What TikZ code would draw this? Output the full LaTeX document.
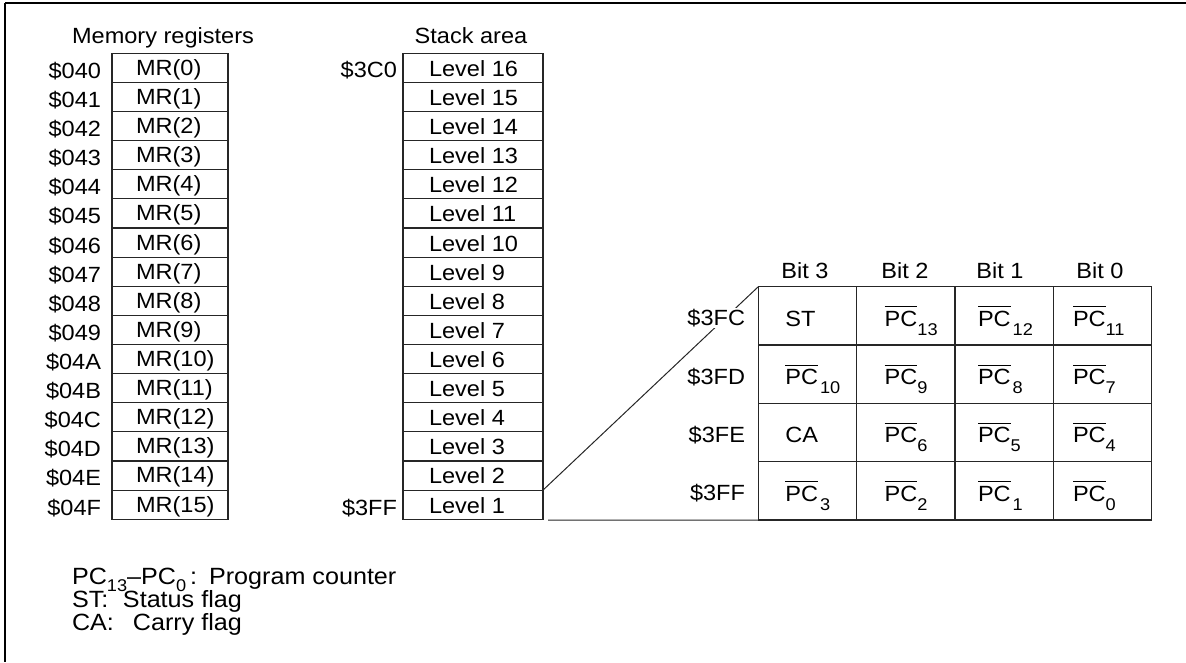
\documentclass[tikz,border=0pt]{standalone}
\usepackage{fontspec}
\setmainfont{Liberation Sans}[FakeStretch=1.07]
\newcommand\pcbar[2][0pt]{\setbox0\hbox{PC}\rlap{\raisebox{\dimexpr\ht0+3.5pt\relax}{\rule{\wd0}{1pt}}}\box0\kern#1\raisebox{-9pt}{\fontsize{17}{17}\selectfont#2}}
\newcommand\pcsub[1]{PC\raisebox{-7pt}{\fontsize{17}{17}\selectfont#1}}
\tikzset{
  frameline/.style={line width=2pt,black},
  mrbox/.style={draw=black!85,line width=1.1pt,inner sep=0pt,outer sep=0pt,minimum width=116pt,minimum height=29.12pt},
  stkbox/.style={draw=black!85,line width=1.1pt,inner sep=0pt,outer sep=0pt,minimum width=140pt,minimum height=29.12pt},
  cellbox/.style={draw=black!85,line width=1.1pt,inner sep=0pt,outer sep=0pt,minimum width=98.35pt,minimum height=58.33pt},
  txt/.style={inner sep=0pt,outer sep=0pt},
  legend/.style={inner sep=0pt,outer sep=0pt,anchor=base west,font=\fontsize{23.5}{28}\selectfont},
  conn/.style={draw=black!85,line width=1pt},
}
\begin{document}
\begin{tikzpicture}[x=1pt,y=-1pt,font=\fontsize{22}{26}\selectfont]
\useasboundingbox (0,0) rectangle (1186,662);
% frame
\coordinate (ftl) at (5,3);
\coordinate (ftr) at (1186,3);
\coordinate (fbl) at (5,662);
\draw[frameline] (ftr) -- (ftl);
\draw[line width=1.5pt] (ftl) -- (fbl);
% headers
\node[txt,anchor=base] (hmr) at (163,43) {Memory registers};
\node[txt,anchor=base] (hstk) at (471,43) {Stack area};
% memory registers
\foreach \i/\a in {0/040,1/041,2/042,3/043,4/044,5/045,6/046,7/047,8/048,9/049,10/04A,11/04B,12/04C,13/04D,14/04E,15/04F}{
  \pgfmathsetmacro\t{53.3+\i*29.12}
  \node[mrbox,anchor=north west] (mr\i) at (112,\t) {};
  \node[txt,anchor=base west] (mrt\i) at (136,\t+22) {MR(\i)};
  \node[txt,anchor=base east] (mra\i) at (101,\t+25) {\$\a};
}
% stack area
\foreach \i in {0,...,15}{
  \pgfmathsetmacro\t{53.3+\i*29.12}
  \pgfmathtruncatemacro\lv{16-\i}
  \node[stkbox,anchor=north west] (stk\i) at (403,\t) {};
  \node[txt,anchor=base west] (stkt\i) at (429,\t+23) {Level \lv};
}
\node[txt,anchor=base east] (a3c0) at (397,53.3+24) {\$3C0};
\node[txt,anchor=base east] (a3ff) at (397,53.3+15*29.12+25) {\$3FF};
% table
\foreach \r in {0,...,3}{
  \foreach \c in {0,...,3}{
    \node[cellbox,anchor=north west] (cell\r\c) at (758.3+\c*98.35,286.7+\r*58.33) {};
  }
}
% connectors
\coordinate (gap) at (548,520);
\draw[conn] (stk15.north east) -- (cell00.north west);
\draw[conn] (gap) -- (cell30.south west);
% bit headers
\node[txt,anchor=base] (b3) at (805,278.3) {Bit 3};
\node[txt,anchor=base] (b2) at (905,278.3) {Bit 2};
\node[txt,anchor=base] (b1) at (1000,278.3) {Bit 1};
\node[txt,anchor=base] (b0) at (1100,278.3) {Bit 0};
% cell contents
\foreach \r/\a/\pa/\pb/\pc/\pd in {
  0/3FC/{ST}/{\pcbar{13}}/{\pcbar[2pt]{12}}/{\pcbar{11}},
  1/3FD/{\pcbar[2pt]{10}}/{\pcbar{9}}/{\pcbar[2pt]{8}}/{\pcbar{7}},
  2/3FE/{CA}/{\pcbar{6}}/{\pcbar{5}}/{\pcbar{4}},
  3/3FF/{\pcbar[2pt]{3}}/{\pcbar{2}}/{\pcbar[2pt]{1}}/{\pcbar{0}}}{
  \pgfmathsetmacro\t{286.7+\r*58.33}
  \node[txt,anchor=base east,fill=white,inner sep=1pt] (ra\r) at (746,\t+39) {\$\a};
  \node[txt,anchor=base west] (ct\r0) at (785.3,\t+39.5) {\pa};
  \node[txt,anchor=base west] (ct\r1) at (884.7,\t+39.5) {\pb};
  \node[txt,anchor=base west] (ct\r2) at (978,\t+39.5) {\pc};
  \node[txt,anchor=base west] (ct\r3) at (1073,\t+39.5) {\pd};
}
% legend
\node[legend] (lg1) at (72,584) {\pcsub{13}--\pcsub{0}\,:\hspace{12pt}Program counter};
\node[legend] (lg2) at (72,607) {\makebox[51pt][l]{ST:}Status flag};
\node[legend] (lg3) at (72,630) {\makebox[61pt][l]{CA:}Carry flag};
\end{tikzpicture}
\end{document}
